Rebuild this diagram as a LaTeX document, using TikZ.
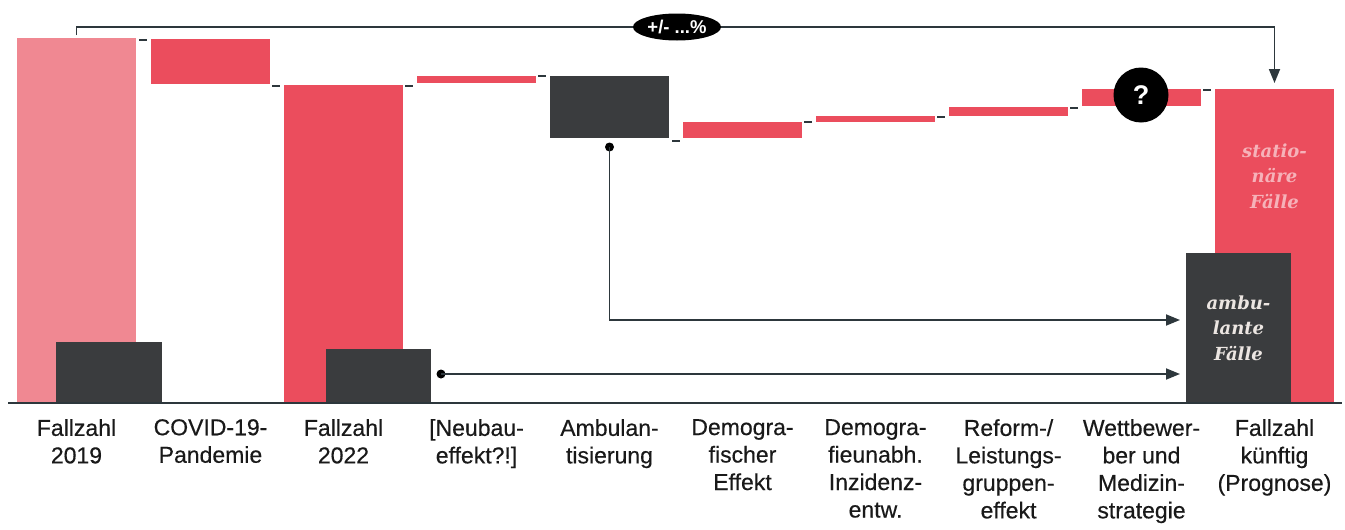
\documentclass[tikz,border=0pt]{standalone}
\usepackage{fontspec}
\setmainfont{Liberation Sans}
\newfontfamily\slabfont{DejaVu Serif}
\newfontfamily\labfont[FakeBold=0.4]{Liberation Sans}
\usetikzlibrary{calc,arrows.meta,shapes.geometric}
\definecolor{pinkc}{RGB}{240,136,146}
\definecolor{redc}{RGB}{235,77,93}
\definecolor{darkc}{RGB}{58,60,62}
\definecolor{linec}{RGB}{45,55,60}
\definecolor{txtc}{RGB}{25,25,25}
\definecolor{palec}{RGB}{246,178,185}
\definecolor{ambc}{RGB}{236,230,226}
\tikzset{
  bar/.style={rectangle, inner sep=0pt, outer sep=0pt, draw=none, anchor=north west, minimum width=119pt, fill=#1},
  box/.style={rectangle, inner sep=0pt, outer sep=0pt, draw=none, anchor=north west, minimum width=105pt, fill=darkc},
  tick/.style={draw=linec, line width=2pt},
  conn/.style={draw=linec, line width=1.8pt},
  tip/.style={-{Stealth[length=14pt,width=11pt,inset=0pt]}},
  lab/.style={anchor=north, inner sep=0pt, align=center, text=txtc, font=\labfont\fontsize{23}{27.5}\selectfont},
  ital/.style={align=center, inner sep=0pt, font=\slabfont\bfseries\itshape\fontsize{18}{25.5}\selectfont}
}
\begin{document}
\begin{tikzpicture}[x=1pt,y=-1pt]
\useasboundingbox[fill=white] (0,0) rectangle (1345,530);
% main bars
\node[bar=pinkc, minimum height=365pt] (b19) at (17,38) {};
\node[bar=redc, minimum height=45pt] (bcov) at (151,39) {};
\node[bar=redc, minimum height=318pt] (b22) at (284,85) {};
\node[bar=redc, minimum height=7pt] (bneu) at (417,76) {};
\node[bar=darkc, minimum height=62pt] (bamb) at (550,76) {};
\node[bar=redc, minimum height=16pt] (bdem) at (683,122) {};
\node[bar=redc, minimum height=6pt] (bunab) at (816,116) {};
\node[bar=redc, minimum height=9pt] (bref) at (949,107) {};
\node[bar=redc, minimum height=17pt] (bwet) at (1082,89) {};
\node[bar=redc, minimum height=314pt] (bfut) at (1215,89) {};
% dark (ambulant) boxes
\node[box, minimum width=106pt, minimum height=61pt] (a19) at (56,342) {};
\node[box, minimum height=54pt] (a22) at (326,349) {};
\node[box, minimum height=150pt] (afut) at (1186,253) {};
% ticks between bars
\draw[tick] ($(b19.north east)+(3,2)$) -- ++(8,0);
\draw[tick] ($(bcov.south east)+(2,2)$) -- ++(8,0);
\draw[tick] ($(b22.north east)+(2,1)$) -- ++(8,0);
\draw[tick] ($(bneu.north east)+(2,0)$) -- ++(8,0);
\draw[tick] ($(bamb.south east)+(3,3)$) -- ++(8,0);
\draw[tick] ($(bdem.north east)+(2,0)$) -- ++(8,0);
\draw[tick] ($(bunab.north east)+(2,1)$) -- ++(8,0);
\draw[tick] ($(bref.north east)+(2,1)$) -- ++(8,0);
\draw[tick] ($(bwet.north east)+(2,1)$) -- ++(8,0);
% baseline
\coordinate (bl0) at (8,403);
\coordinate (bl1) at (1342,403);
\draw[draw=linec, line width=1.6pt] (bl0) -- (bl1);
% top bracket
\coordinate (pctc) at (677,27);
\draw[conn, tip, shorten <=3pt, shorten >=6pt] (b19.north) |- (pctc) -| (bfut.north);
\node[ellipse, fill=black, minimum width=88pt, minimum height=27pt, inner sep=0pt, text=white, font=\bfseries\fontsize{18.5}{18.5}\selectfont] (pct) at (pctc) {+/- ...\%};
% question mark
\node[circle, fill=black, minimum size=55pt, inner sep=0pt, text=white, font=\bfseries\fontsize{27}{27}\selectfont] (q) at (1141,95) {?};
% arrows to ambulant future
\coordinate (d1) at ($(bamb.south)+(0,9)$);
\fill[black] (d1) circle (4.5pt);
\draw[conn, tip, shorten >=6pt] (d1) |- ([yshift=8pt]afut.west);
\coordinate (d2) at ($(a22.east)+(10,-2)$);
\fill[black] (d2) circle (4.5pt);
\draw[conn, tip, shorten >=6pt] (d2) -- (d2 -| afut.west);
% italic labels
\node[ital, text=palec] (tst) at ($(bfut.north)+(0,87)$) {statio-\\näre\\Fälle};
\node[ital, text=ambc] (tam) at (afut.center) {ambu-\\lante\\Fälle};
% category labels
\node[lab] (l1) at (b19.south |- 0,419) {Fallzahl\\2019};
\node[lab] (l2) at (bcov.south |- 0,419) {COVID-19-\\Pandemie};
\node[lab] (l3) at (b22.south |- 0,419) {Fallzahl\\2022};
\node[lab] (l4) at (bneu.south |- 0,419) {[Neubau-\\effekt?!]};
\node[lab] (l5) at (bamb.south |- 0,419) {Ambulan-\\tisierung};
\node[lab] (l6) at (bdem.south |- 0,419) {Demogra-\\fischer\\Effekt};
\node[lab] (l7) at (bunab.south |- 0,419) {Demogra-\\fieunabh.\\Inzidenz-\\entw.};
\node[lab] (l8) at (bref.south |- 0,419) {Reform-/\\Leistungs-\\gruppen-\\effekt};
\node[lab] (l9) at (bwet.south |- 0,419) {Wettbewer-\\ber und\\Medizin-\\strategie};
\node[lab] (l10) at (bfut.south |- 0,419) {Fallzahl\\künftig\\(Prognose)};
\end{tikzpicture}
\end{document}
